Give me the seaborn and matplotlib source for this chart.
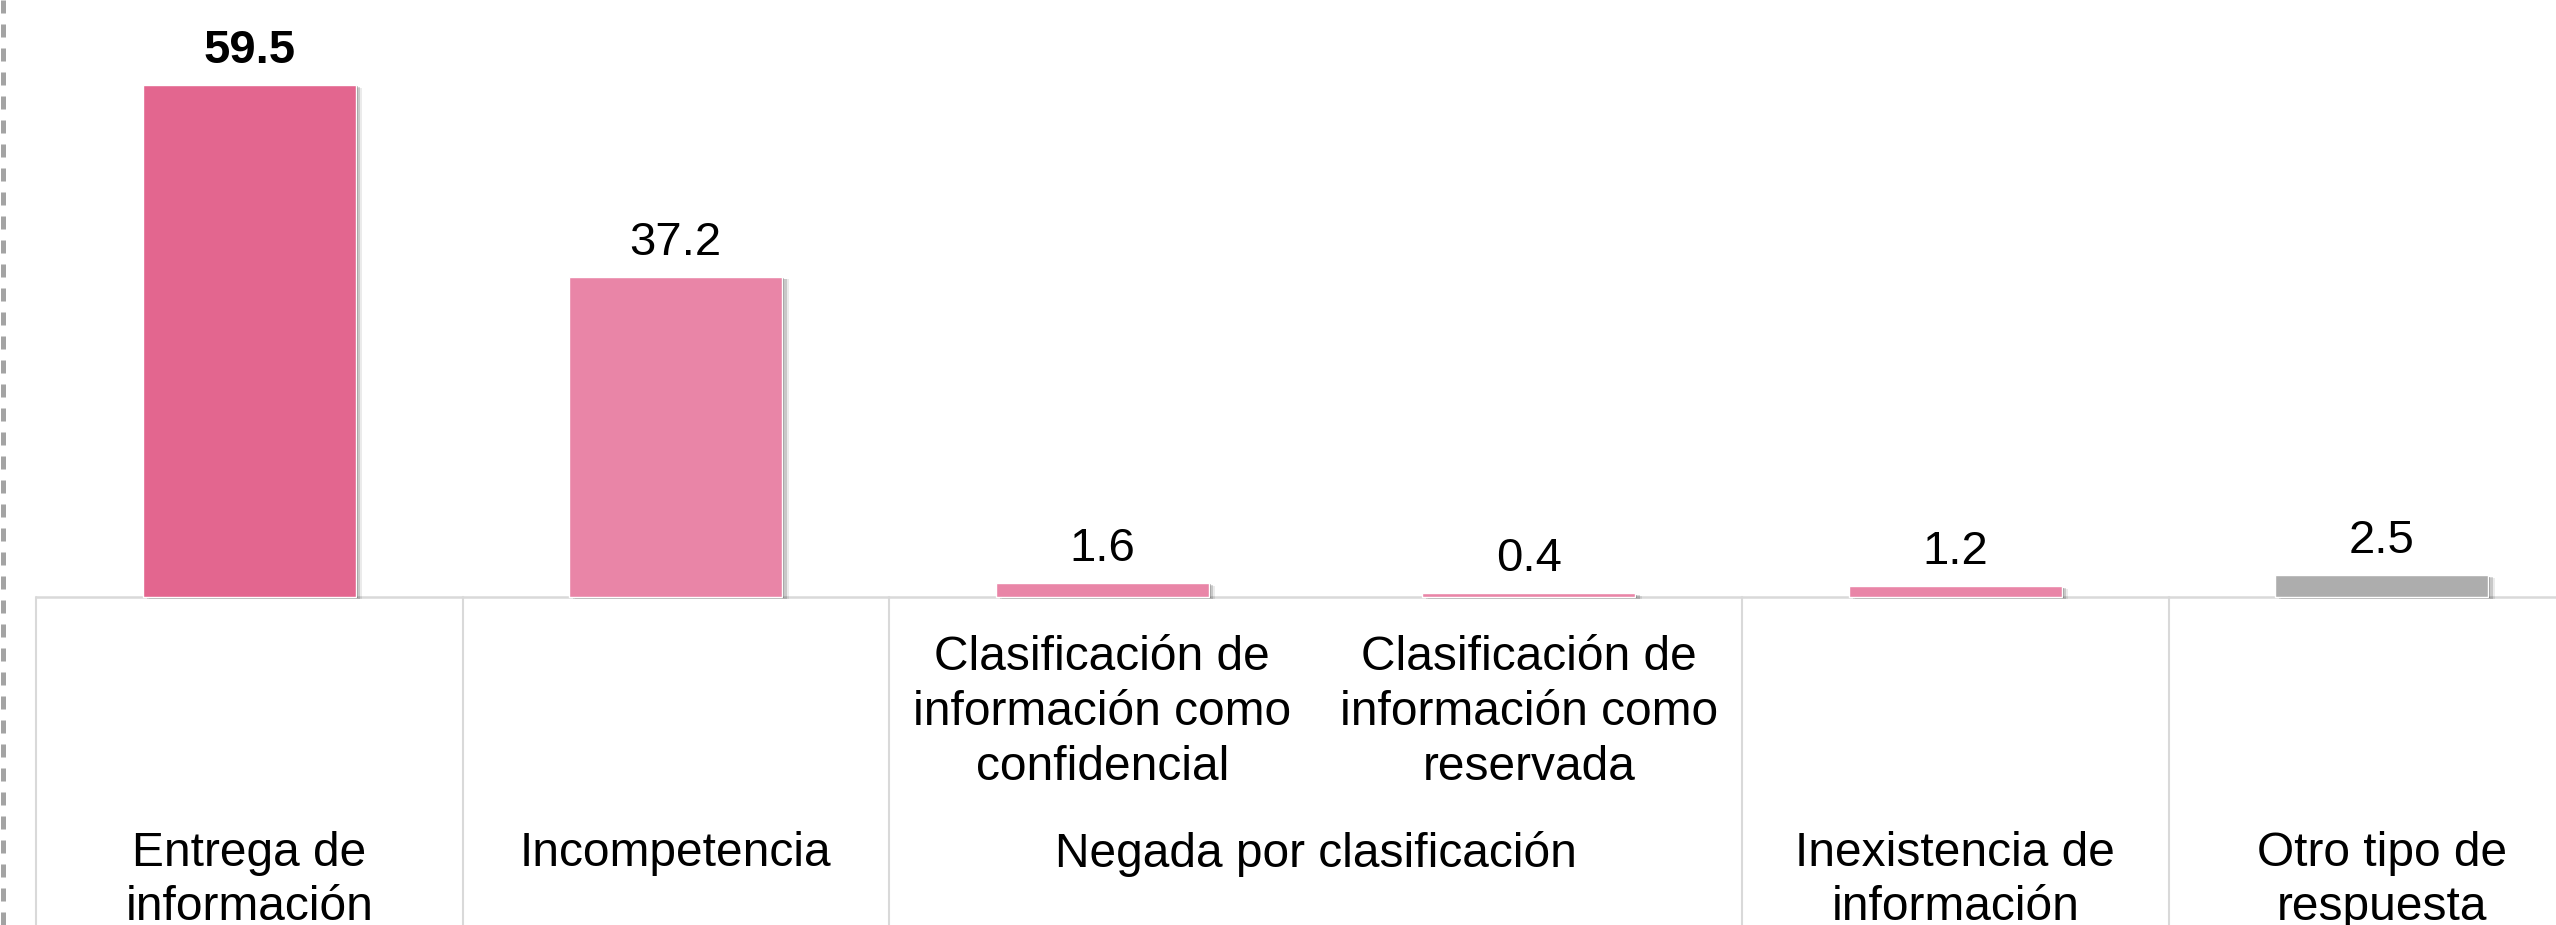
import numpy as np
import pandas as pd
import matplotlib
matplotlib.use("Agg")
import matplotlib.pyplot as plt
import matplotlib.patheffects as pe
from matplotlib.lines import Line2D
import seaborn as sns

sns.set_style("white")
plt.rcParams['font.family'] = ['Liberation Sans', 'DejaVu Sans']
plt.rcParams['text.color'] = 'black'

# datos
categorias = ['Entrega', 'Incompetencia', 'Confidencial', 'Reservada', 'Inexistencia', 'Otro']
valores = [59.5, 37.2, 1.6, 0.4, 1.2, 2.5]
colores = ['#E3668F', '#E985A7', '#E985A7', '#E985A7', '#E985A7', '#ADADAD']
etiquetas_sub = ['', '', 'Clasificación de\ninformación como\nconfidencial',
                 'Clasificación de\ninformación como\nreservada', '', '']
etiquetas_grupo = ['Entrega de\ninformación', 'Incompetencia', 'Negada por clasificación',
                   'Inexistencia de\ninformación', 'Otro tipo de\nrespuesta']
grupo_tam = [1, 1, 2, 1, 1]

df = pd.DataFrame({'cat': categorias, 'val': valores})

fig = plt.figure(figsize=(25.56, 9.25), dpi=100)
ax = fig.add_axes([36 / 2556, 0, 2559 / 2556, 1])

sns.barplot(data=df, x='cat', y='val', hue='cat', palette=colores,
            legend=False, width=0.5, saturation=1, ax=ax)

# sombra suave tipo Excel
sombra = [pe.SimplePatchShadow(offset=(4.5, -2), shadow_rgbFace='#000000', alpha=0.08),
          pe.SimplePatchShadow(offset=(3, -1.5), shadow_rgbFace='#000000', alpha=0.15),
          pe.SimplePatchShadow(offset=(1.5, -1), shadow_rgbFace='#000000', alpha=0.25),
          pe.Normal()]
for p in ax.patches:
    p.set_path_effects(sombra)
    p.set_zorder(3)

ax.set_xlim(-0.5, 5.5)
ax.set_ylim(-38.17, 69.35)
ax.set_axis_off()

# etiquetas de valor
for i, v in enumerate(valores):
    ax.annotate(f'{v:.1f}', (i, v), xytext=(0, 8.5), textcoords='offset points',
                ha='center', va='bottom', fontsize=34,
                fontweight='bold' if i == 0 else 'normal', color='black')

# tabla de categorías
gris = '#D9D9D9'
ax.axhline(0, color=gris, lw=1.8, zorder=2)
bordes = np.cumsum([0] + grupo_tam) - 0.5
for b in bordes:
    ax.plot([b, b], [0, -40], color=gris, lw=1.5, zorder=2, clip_on=False)

for i, t in enumerate(etiquetas_sub):
    if t:
        ax.text(i, -4.5, t, ha='center', va='top', fontsize=34.5, linespacing=1.28,
                color='black')

inicio = 0
for t, n in zip(etiquetas_grupo, grupo_tam):
    ax.text(inicio + (n - 1) / 2, -27.2, t, ha='center', va='top', fontsize=34.5,
            linespacing=1.28, color='black')
    inicio += n

# borde punteado a la izquierda
fig.add_artist(Line2D([2.5 / 2556, 2.5 / 2556], [0, 1], transform=fig.transFigure,
                      color='#A3A3A3', lw=3.6, dashes=(2.6, 2.2)))

fig.savefig('out.png', dpi=100)
